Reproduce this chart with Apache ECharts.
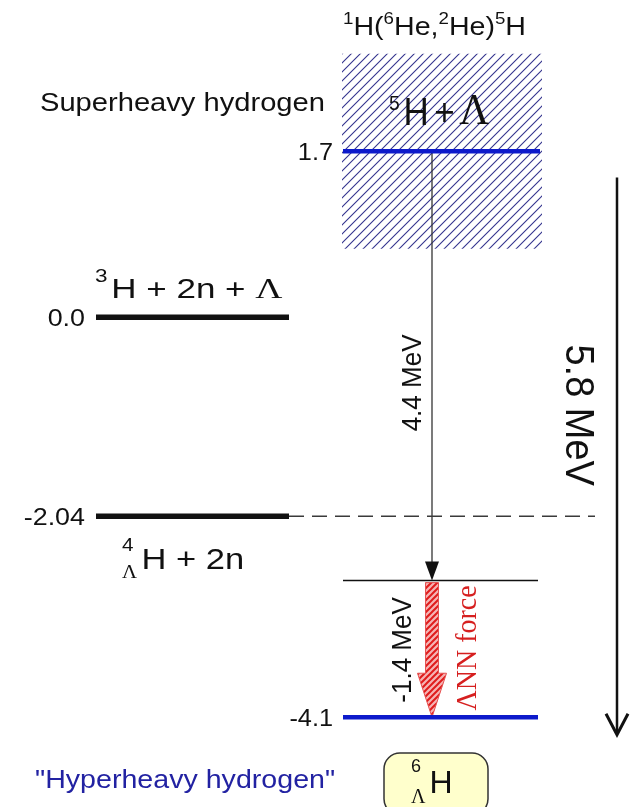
<!DOCTYPE html>
<html>
<head>
<meta charset="utf-8">
<script src="https://cdn.jsdelivr.net/npm/echarts@6/dist/echarts.min.js"></script>
<style>
  html, body { margin: 0; padding: 0; background: #fff; }
  #chart { width: 630px; height: 807px; }
</style>
</head>
<body>
<div id="chart"></div>
<script>
// Energies in MeV, measured from the 3H + 2n + Λ threshold
const thresholdLevels = [0.0, -2.04];
const thresholdLabels = ['0.0', '-2.04'];
const stateLevels = [1.7, -4.1];
const stateLabels = ['1.7', '-4.1'];
const resonanceBand = [0.7, 2.7];          // width of the 5H + Λ state
const stepGaps = [4.4, 1.4];               // 5H+Λ -> unbound 6ΛH -> bound 6ΛH
const stepLabels = ['4.4 MeV', '-1.4 MeV'];
const totalGap = 5.8;
const totalArrowRange = [1.43, -4.28];

// Horizontal layout (x axis runs 0..630)
const LEFT_COL = [96, 289];
const RIGHT_COL = [343, 540];
const ARROW_X = 432;
const GUIDE_END = 595;
const BIG_ARROW_X = 617;

const SANS = '"Liberation Sans", Arial, Helvetica, sans-serif';
const SERIF = '"Liberation Serif", "Times New Roman", serif';
const INK = '#111';
const BLUE = '#0d1acb';
const RED = '#d61f1f';

const measureCtx = document.createElement('canvas').getContext('2d');
function fontOf(tk) { return (tk.style || 'normal') + ' ' + tk.size + 'px ' + (tk.family || SANS); }
function widthOf(str, font) { measureCtx.font = font; return measureCtx.measureText(str).width; }

// Lay out text pieces on a shared baseline; rise lifts/lowers sup- and subscripts,
// hold stacks the next piece at the same x.
function textRun(tokens, x, y, o) {
  o = o || {};
  let cursor = 0, held = null;
  const kids = [];
  tokens.forEach(tk => {
    const font = fontOf(tk);
    const w = widthOf(tk.t, font);
    const x0 = held ? held.x : cursor + (tk.gap || 0);
    kids.push({
      type: 'text', x: x0, y: -(tk.rise || 0) - 0.35 * tk.size,
      style: { text: tk.t, font: font, fill: tk.fill || o.fill || INK, align: 'left', verticalAlign: 'middle' }
    });
    if (tk.hold) { held = { x: x0, w: w }; }
    else { cursor = x0 + (held ? Math.max(held.w, w) : w); held = null; }
  });
  const shift = o.align === 'right' ? -cursor : (o.align === 'center' ? -cursor / 2 : 0);
  kids.forEach(k => { k.x += shift; });
  return { type: 'group', x: x, y: y, scaleX: o.sx || 1, scaleY: o.sy || 1, children: kids };
}

function vText(text, x, y, size, family, fill, rotation, sy) {
  return {
    type: 'text', x: x, y: y, rotation: rotation, scaleY: sy || 1,
    style: { text: text, font: 'normal ' + size + 'px ' + family, fill: fill, align: 'center', verticalAlign: 'middle' }
  };
}

function stripes(size, bg, fg, lw) {
  const c = document.createElement('canvas');
  c.width = size; c.height = size;
  const g = c.getContext('2d');
  if (bg) { g.fillStyle = bg; g.fillRect(0, 0, size, size); }
  g.strokeStyle = fg; g.lineWidth = lw;
  g.beginPath();
  g.moveTo(-1, 1); g.lineTo(1, -1);
  g.moveTo(0, size); g.lineTo(size, 0);
  g.moveTo(size - 1, size + 1); g.lineTo(size + 1, size - 1);
  g.stroke();
  return { image: c, repeat: 'repeat' };
}
const bandHatch = stripes(9, '#ffffff', '#34348e', 1.1);
const forceHatch = stripes(6, '#f5b4b4', '#e01c1c', 2);

// Level names
const thresholdNames = [
  [{ t: '3', size: 18, rise: 17 }, { t: 'H', size: 28, gap: 3 }, { t: ' + ', size: 28 },
   { t: '2n', size: 28 }, { t: ' + ', size: 28 }, { t: 'Λ', size: 30, family: SERIF }],
  [{ t: '4', size: 18, rise: 19, hold: true }, { t: 'Λ', size: 18, family: SERIF, rise: -8 },
   { t: 'H', size: 30, gap: 4 }, { t: ' + ', size: 30 }, { t: '2n', size: 30 }]
];
const thresholdNamePos = [{ x: 95, dy: -17, sx: 1.25 }, { x: 122, dy: 55, sx: 1.15 }];
const upperName = [{ t: '5', size: 21, rise: 17 }, { t: 'H', size: 38, gap: 4 }, { t: '+', size: 38, gap: 6 },
                   { t: 'Λ', size: 45, family: SERIF, gap: 5 }];

const yOf = (api, e) => api.coord([0, e])[1];

const upper = stateLevels[0];
const middle = upper - stepGaps[0];
const lower = middle - stepGaps[1];

const chart = echarts.init(document.getElementById('chart'), null, { renderer: 'canvas' });

chart.setOption({
  animation: false,
  grid: { left: 0, right: 0, top: 0, bottom: 0 },
  xAxis: { type: 'value', min: 0, max: 630, show: false },
  yAxis: { type: 'value', min: -5.02, max: 3.25, show: false },
  series: [
    {
      // resonance width of 5H + Λ
      type: 'custom', silent: true,
      data: [resonanceBand],
      renderItem: (params, api) => {
        const top = yOf(api, api.value(1)), bottom = yOf(api, api.value(0));
        return { type: 'rect', shape: { x: RIGHT_COL[0] - 1, y: top, width: RIGHT_COL[1] - RIGHT_COL[0] + 3, height: bottom - top },
                 style: { fill: bandHatch } };
      }
    },
    {
      // ΛNN force contribution
      type: 'custom', silent: true,
      data: [[middle, lower]],
      renderItem: (params, api) => {
        const top = yOf(api, api.value(0)) + 2, tip = yOf(api, api.value(1));
        const hw = 6.5, hh = 14.5, hl = 44, x = ARROW_X;
        return {
          type: 'group', children: [
            { type: 'polygon', shape: { points: [[x - hw, top], [x + hw, top], [x + hw, tip - hl], [x + hh, tip - hl], [x, tip],
              [x - hh, tip - hl], [x - hw, tip - hl]] }, style: { fill: forceHatch, stroke: '#e65252', lineWidth: 1 } },
            vText(stepLabels[1], 403, (top + tip) / 2, 26, SANS, INK, Math.PI / 2, 1.08),
            vText('ΛNN force', 468, (top + tip) / 2 - 2, 28, SERIF, RED, Math.PI / 2, 1.05)
          ]
        };
      }
    },
    {
      // 4.4 MeV step
      type: 'custom', silent: true,
      data: [[upper, middle]],
      renderItem: (params, api) => {
        const top = yOf(api, api.value(0)), tip = yOf(api, api.value(1));
        const x = ARROW_X;
        return {
          type: 'group', children: [
            { type: 'line', shape: { x1: x, y1: top, x2: x, y2: tip - 16 }, style: { stroke: '#333', lineWidth: 1.3 } },
            { type: 'polygon', shape: { points: [[x - 7, tip - 19], [x + 7, tip - 19], [x, tip]] }, style: { fill: INK } },
            vText(stepLabels[0], 413, (top + tip) / 2 + 17, 26, SANS, INK, Math.PI / 2, 1.08)
          ]
        };
      }
    },
    {
      // threshold levels on the left
      type: 'custom', silent: true,
      data: thresholdLevels.map(e => [e]),
      renderItem: (params, api) => {
        const i = params.dataIndex;
        const y = yOf(api, api.value(0));
        const p = thresholdNamePos[i];
        return {
          type: 'group', children: [
            { type: 'line', shape: { x1: LEFT_COL[0], y1: y, x2: LEFT_COL[1], y2: y }, style: { stroke: INK, lineWidth: 5.5 } },
            textRun([{ t: thresholdLabels[i], size: 24 }], 85, y + 11, { align: 'right', sx: 1.12 }),
            textRun(thresholdNames[i], p.x, y + p.dy, { sx: p.sx })
          ]
        };
      }
    },
    {
      // 4ΛH + 2n threshold carried across
      type: 'custom', silent: true,
      data: [[thresholdLevels[1]]],
      renderItem: (params, api) => {
        const y = yOf(api, api.value(0));
        return { type: 'line', shape: { x1: LEFT_COL[1], y1: y, x2: GUIDE_END, y2: y },
                 style: { stroke: '#3a3a3a', lineWidth: 1.5, lineDash: [15, 8] } };
      }
    },
    {
      // unbound 6ΛH level reached after the 4.4 MeV step
      type: 'custom', silent: true,
      data: [[middle]],
      renderItem: (params, api) => {
        const y = yOf(api, api.value(0));
        return { type: 'line', shape: { x1: RIGHT_COL[0], y1: y, x2: RIGHT_COL[1] - 2, y2: y },
                 style: { stroke: INK, lineWidth: 1.5 } };
      }
    },
    {
      // 5H + Λ and bound 6ΛH levels
      type: 'custom', silent: true,
      data: stateLevels.map(e => [e]),
      renderItem: (params, api) => {
        const i = params.dataIndex;
        const y = yOf(api, api.value(0));
        const kids = [
          { type: 'line', shape: { x1: RIGHT_COL[0], y1: y, x2: RIGHT_COL[1] - 2 * i, y2: y }, style: { stroke: BLUE, lineWidth: 4.5 } },
          textRun([{ t: stateLabels[i], size: 23 }], 333, y + 10, { align: 'right', sx: 1.1 })
        ];
        if (i === 0) kids.push(textRun(upperName, 389, y - 23, { sx: 0.92 }));
        return { type: 'group', children: kids };
      }
    },
    {
      // total 5.8 MeV span
      type: 'custom', silent: true,
      data: [totalArrowRange],
      renderItem: (params, api) => {
        const top = yOf(api, api.value(0)), tip = yOf(api, api.value(1));
        const x = BIG_ARROW_X;
        return {
          type: 'group', children: [
            { type: 'line', shape: { x1: x, y1: top, x2: x, y2: tip - 1 }, style: { stroke: INK, lineWidth: 2.5 } },
            { type: 'polyline', shape: { points: [[x - 11, tip - 21], [x, tip], [x + 11, tip - 21]] },
              style: { stroke: INK, lineWidth: 3, fill: null } },
            vText(totalGap.toFixed(1) + ' MeV', 577, (top + tip) / 2 - 41, 38, SANS, INK, -Math.PI / 2, 1.08)
          ]
        };
      }
    }
  ],
  graphic: [
    textRun([{ t: '1', size: 17, rise: 12 }, { t: 'H(', size: 26 }, { t: '6', size: 17, rise: 12 }, { t: 'He,', size: 26 },
             { t: '2', size: 17, rise: 12 }, { t: 'He)', size: 26 }, { t: '5', size: 17, rise: 12 }, { t: 'H', size: 26 }],
            343, 37, { sx: 1.1 }),
    textRun([{ t: 'Superheavy hydrogen', size: 26 }], 40, 113, { sx: 1.12 }),
    textRun([{ t: '"Hyperheavy hydrogen"', size: 26 }], 35, 790, { sx: 1.1, fill: '#2222a2' }),
    { type: 'rect', shape: { x: 384, y: 753, width: 104, height: 62, r: 16 },
      style: { fill: '#ffffcc', stroke: '#333', lineWidth: 1.5 } },
    textRun([{ t: '6', size: 18, rise: 22, hold: true }, { t: 'Λ', size: 20, family: SERIF, rise: -10 },
             { t: 'H', size: 32, gap: 4 }], 411, 795, {})
  ]
});
</script>
</body>
</html>
